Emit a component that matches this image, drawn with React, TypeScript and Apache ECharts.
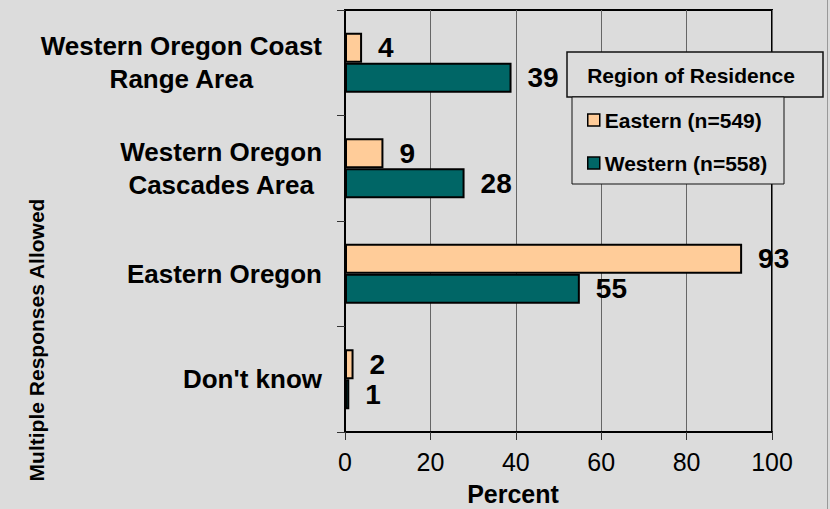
import React, { useEffect, useRef } from "react";
import * as echarts from "echarts";

const categories = [
  "Western Oregon Coast\nRange Area",
  "Western Oregon\nCascades Area",
  "Eastern Oregon",
  "Don't know",
];
const seriesNames = ["Eastern (n=549)", "Western (n=558)"];
const easternValues = [4, 9, 93, 2];
const westernValues = [39, 28, 55, 1];
const xTicks = { min: 0, max: 100, interval: 20 };

const FONT = "'Liberation Sans', Arial, Helvetica, sans-serif";
const BG = "#dcdcdc";

export default function App() {
  const ref = useRef<HTMLDivElement>(null);

  useEffect(() => {
    if (!ref.current) return;
    const chart = echarts.init(ref.current, null, { renderer: "svg" });

    const barLabel = {
      show: true,
      position: "right" as const,
      distance: 16,
      fontFamily: FONT,
      fontSize: 28,
      fontWeight: "bold" as const,
      color: "#000",
    };

    chart.setOption({
      animation: false,
      backgroundColor: BG,
      textStyle: { fontFamily: FONT },
      grid: {
        left: 345,
        right: 58,
        top: 10,
        bottom: 77,
        show: true,
        borderColor: "#000",
        borderWidth: 2,
        backgroundColor: "transparent",
      },
      xAxis: {
        type: "value",
        min: xTicks.min,
        max: xTicks.max,
        interval: xTicks.interval,
        axisLine: { show: true, lineStyle: { color: "#000", width: 2 } },
        axisTick: { show: true, length: 8, lineStyle: { color: "#333", width: 1 } },
        axisLabel: { fontFamily: FONT, fontSize: 25, color: "#000", margin: 17 },
        splitLine: { show: true, lineStyle: { color: "#666", width: 1 } },
      },
      yAxis: {
        type: "category",
        inverse: true,
        data: categories,
        axisLine: { show: true, lineStyle: { color: "#000", width: 2 } },
        axisTick: { show: true, length: 8, lineStyle: { color: "#333", width: 1 } },
        splitLine: { show: false },
        axisLabel: {
          margin: 23,
          formatter: (v: string) =>
            v
              .split("\n")
              .map((line) => `{c|${line}}`)
              .join("\n"),
          rich: {
            c: {
              align: "center",
              fontFamily: FONT,
              fontSize: 26,
              fontWeight: "bold",
              color: "#000",
              lineHeight: 33,
            },
          },
        },
      },
      legend: {
        data: seriesNames,
        orient: "vertical",
        left: 587,
        top: 109,
        padding: 0,
        itemWidth: 12,
        itemHeight: 12,
        itemGap: 21,
        icon: "rect",
        selectedMode: false,
        z: 10,
        itemStyle: { borderColor: "#000", borderWidth: 1.5 },
        textStyle: {
          fontFamily: FONT,
          fontSize: 21,
          fontWeight: "bold",
          color: "#000",
          lineHeight: 22,
        },
      },
      series: [
        {
          name: seriesNames[0],
          type: "bar",
          data: easternValues,
          barWidth: 30,
          barGap: "0%",
          itemStyle: { color: "#ffcc99", borderColor: "#000", borderWidth: 2 },
          label: barLabel,
        },
        {
          name: seriesNames[1],
          type: "bar",
          data: westernValues,
          barWidth: 30,
          barGap: "0%",
          itemStyle: { color: "#006666", borderColor: "#000", borderWidth: 2 },
          label: barLabel,
        },
      ],
      graphic: [
        {
          type: "rect",
          z: 3,
          shape: { x: 567, y: 52, width: 256, height: 45 },
          style: { fill: BG, stroke: "#111", lineWidth: 1.5 },
        },
        {
          type: "rect",
          z: 3,
          shape: { x: 572, y: 97, width: 212, height: 87 },
          style: { fill: BG, stroke: "#111", lineWidth: 1 },
        },
        {
          type: "text",
          z: 4,
          x: 691,
          y: 75,
          style: {
            text: "Region of Residence",
            fontFamily: FONT,
            fontSize: 21,
            fontWeight: "bold",
            fill: "#000",
            align: "center",
            verticalAlign: "middle",
          },
        },
        {
          type: "text",
          z: 4,
          x: 513,
          y: 494,
          style: {
            text: "Percent",
            fontFamily: FONT,
            fontSize: 25,
            fontWeight: "bold",
            fill: "#000",
            align: "center",
            verticalAlign: "middle",
          },
        },
        {
          type: "text",
          z: 4,
          x: 36,
          y: 340,
          rotation: Math.PI / 2,
          style: {
            text: "Multiple Responses Allowed",
            fontFamily: FONT,
            fontSize: 21,
            fontWeight: "bold",
            fill: "#000",
            align: "center",
            verticalAlign: "middle",
          },
        },
        {
          type: "line",
          z: 4,
          shape: { x1: 827.5, y1: 0, x2: 827.5, y2: 509 },
          style: { stroke: "#999", lineWidth: 1 },
        },
      ],
    });

    return () => chart.dispose();
  }, []);

  return <div ref={ref} style={{ width: 830, height: 509, position: "absolute", left: 0, top: 0 }} />;
}
